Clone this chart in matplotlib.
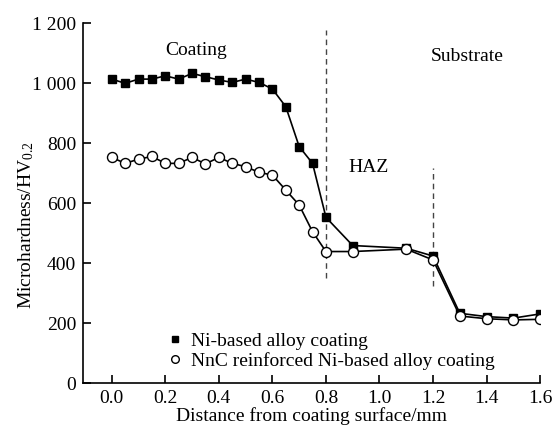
import matplotlib
matplotlib.use("Agg")
import matplotlib.pyplot as plt
from matplotlib.lines import Line2D

plt.rcParams['font.family'] = ['Liberation Serif', 'DejaVu Serif']
plt.rcParams['mathtext.fontset'] = 'custom'
plt.rcParams['mathtext.rm'] = 'Liberation Serif'
plt.rcParams['mathtext.it'] = 'Liberation Serif:italic'

# Data
x_vals = [0.0, 0.05, 0.10, 0.15, 0.20, 0.25, 0.30, 0.35, 0.40, 0.45, 0.50, 0.55,
          0.60, 0.65, 0.70, 0.75, 0.80, 0.90, 1.10, 1.20, 1.30, 1.40, 1.50, 1.60]
ni_based = [1014, 1000, 1014, 1014, 1025, 1014, 1033, 1022, 1011, 1003, 1014, 1003,
            981, 922, 789, 733, 553, 459, 450, 424, 233, 222, 217, 231]
nnc_reinforced = [753, 733, 747, 756, 733, 733, 753, 731, 753, 733, 722, 703,
                  694, 644, 594, 505, 439, 439, 447, 411, 224, 215, 211, 213]
series_labels = ["Ni-based alloy coating", "NnC reinforced Ni-based alloy coating"]
x_ticks = [0.0, 0.2, 0.4, 0.6, 0.8, 1.0, 1.2, 1.4, 1.6]
x_ticklabels = ["0.0", "0.2", "0.4", "0.6", "0.8", "1.0", "1.2", "1.4", "1.6"]
y_ticks = [0, 200, 400, 600, 800, 1000, 1200]
y_ticklabels = ["0", "200", "400", "600", "800", "1 000", "1 200"]
boundaries = [(0.8, 350, 1178), (1.2, 324, 718)]
region_texts = [("Coating", 0.315, 1111), ("Substrate", 1.328, 1088), ("HAZ", 0.958, 718)]

fig = plt.figure(figsize=(5.54, 4.32), dpi=100)
ax = fig.add_axes([0.150, 0.113, 0.825, 0.833])

fs = 14

ax.plot(x_vals, ni_based, color='black', lw=1.2, marker='s', ms=6.2,
        mfc='black', mec='black', zorder=3)
ax.plot(x_vals, nnc_reinforced, color='black', lw=1.2, marker='o', ms=7.2,
        mfc='white', mec='black', mew=1.0, zorder=4)

for xb, y0, y1 in boundaries:
    ax.plot([xb, xb], [y0, y1], color='#444444', lw=1.0, ls=(0, (4, 3)), zorder=2)

for t, tx, ty in region_texts:
    ax.text(tx, ty, t, fontsize=fs, ha='center', va='center')

ax.set_xlim(-0.107, 1.6)
ax.set_ylim(0, 1200)
ax.set_xticks(x_ticks)
ax.set_xticklabels(x_ticklabels)
ax.set_yticks(y_ticks)
ax.set_yticklabels(y_ticklabels)
ax.tick_params(axis='both', direction='in', labelsize=fs, length=6, width=1.2, pad=5)
ax.spines['top'].set_visible(False)
ax.spines['right'].set_visible(False)
ax.spines['left'].set_linewidth(1.2)
ax.spines['bottom'].set_linewidth(1.2)

ax.set_xlabel("Distance from coating surface/mm", fontsize=fs, labelpad=0)
ax.set_ylabel("Microhardness/HV$_{0.2}$", fontsize=fs)
ax.yaxis.set_label_coords(-0.103, 0.44)

handles = [Line2D([], [], ls='none', marker='s', ms=5, mfc='black', mec='black'),
           Line2D([], [], ls='none', marker='o', ms=5.5, mfc='white', mec='black')]
ax.legend(handles, series_labels, loc='lower left', bbox_to_anchor=(0.18, 0.027),
          frameon=False, fontsize=fs, handlelength=0.6, handletextpad=0.5,
          labelspacing=0.1, borderpad=0.2, borderaxespad=0)

fig.savefig("out.png", dpi=100)
